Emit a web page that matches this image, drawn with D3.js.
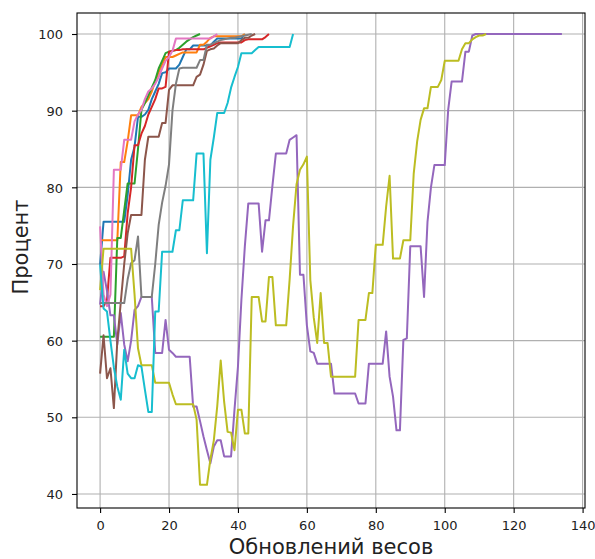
<!DOCTYPE html>
<html>
<head>
<meta charset="utf-8">
<script src="https://cdn.jsdelivr.net/npm/d3@7"></script>
<style>
  body { margin: 0; background: #fff; }
  text { font-family: "DejaVu Sans", sans-serif; }
</style>
</head>
<body>
<div id="chart"></div>
<script>
// accuracy (%) after each weight update, one array per run
const blue = [69.9, 75.5, 75.5, 75.5, 75.5, 75.5, 75.5, 75.5, 79, 83.6,
  85.3, 89.2, 89.2, 89.5, 90.1, 91.5, 92.5, 93.5, 94.9, 95,
  95.5, 95.5, 95.5, 96, 97, 98, 98, 98.5, 98.5, 98.5,
  98.5, 98.5, 98.5, 99, 99.4, 99.4, 99.4, 99.4, 99.4, 99.4,
  99.4, 99.4, 100];
const orange = [73.1, 73.1, 73.1, 73.1, 73.1, 73.1, 83.3, 83.3, 86, 89.4,
  89.4, 89.4, 90.5, 91, 91.5, 92.5, 93.8, 95, 96, 97,
  97, 97, 97.2, 97.4, 97.6, 97.6, 97.6, 97.6, 97.6, 98.6,
  98.6, 99, 99.5, 99.7, 99.7, 99.7, 99.7, 99.7, 99.7, 99.7,
  99.7, 99.7, 100];
const green = [60.5, 60.5, 60.5, 60.5, 60.5, 73.4, 73.4, 77, 80.5, 80.5,
  80.5, 85, 90.1, 91, 92, 93, 94, 95.5, 96.5, 97.5,
  97.7, 97.8, 97.9, 98.2, 98.6, 99, 99.3, 99.6, 99.8, 100];
const red = [64.5, 64.5, 65.3, 70.8, 70.8, 70.8, 70.8, 71, 76.6, 80,
  85.5, 85.5, 87, 88, 89.5, 90.5, 91.5, 92.9, 92.9, 93.1,
  97.7, 97.8, 97.9, 97.9, 98, 98, 98, 98, 98, 98,
  98, 98.2, 98.4, 98.6, 98.8, 98.9, 98.9, 98.9, 98.9, 98.9,
  98.9, 98.9, 99.2, 99.3, 99.3, 99.3, 99.3, 99.3, 99.6, 100];
const purple = [64.7, 69, 66.5, 63.3, 63.3, 59.5, 63.6, 59.5, 57.3, 60,
  64, 64.5, 65.7, 65.7, 65.7, 65.7, 58.4, 58.4, 58.4, 62.7,
  58.8, 58.4, 57.9, 57.9, 57.9, 57.9, 57.9, 51.4, 51.4, 49.5,
  47.5, 45.7, 44, 46.2, 47, 47, 44.9, 44.9, 44.9, 51,
  56.6, 65.3, 72.3, 77.9, 77.9, 77.9, 77.9, 71.6, 75.7, 75.7,
  80.2, 84.4, 84.4, 84.4, 84.4, 86.2, 86.5, 86.8, 68.6, 68.6,
  62, 58.6, 58.4, 57, 57, 57, 57, 57, 53.1, 53.1,
  53.1, 53.1, 53.1, 53.1, 53.1, 51.8, 51.8, 51.8, 57, 57,
  57, 57, 57, 61.2, 55.3, 52.7, 48.3, 48.3, 60.1, 60.3,
  72.3, 72.3, 72.3, 72.3, 65.7, 75.5, 80, 82.9, 82.9, 82.9,
  82.9, 90.1, 93.8, 93.8, 93.8, 93.8, 97.7, 97.7, 99.8, 100,
  100, 100, 100, 100, 100, 100, 100, 100, 100, 100,
  100, 100, 100, 100, 100, 100, 100, 100, 100, 100,
  100, 100, 100, 100, 100];
const brown = [55.7, 60.7, 55.1, 56.4, 51.2, 60, 65, 70, 74, 76.4,
  76.4, 76.4, 76.4, 83.6, 86.6, 86.6, 86.6, 86.6, 88.4, 88.4,
  92.7, 93.3, 93.3, 93.3, 93.3, 93.3, 93.3, 93.3, 94.4, 94.7,
  96, 97.8, 98, 98.1, 98.5, 98.8, 98.8, 98.8, 98.8, 98.8,
  98.8, 99.2, 99.5, 99.5, 99.8, 100];
const pink = [74.9, 66, 64.5, 66, 82.3, 82.3, 82.3, 86.2, 86.2, 86.2,
  88.6, 89.5, 90.1, 91.5, 92.5, 92.9, 93.5, 94.4, 95.5, 96.5,
  97, 97.8, 99.4, 99.4, 99.4, 99.4, 99.4, 99.4, 99.4, 99.4,
  99.4, 99.4, 99.4, 99.7, 100];
const gray = [64.9, 64.9, 64.9, 64.9, 64.9, 64.9, 64.9, 64.9, 68, 70.1,
  70.5, 73.6, 65.7, 65.7, 65.7, 65.7, 70, 75.1, 78, 80.2,
  83, 90, 93.5, 95.5, 95.6, 95.6, 95.6, 95.6, 95.6, 96.6,
  96.6, 98.6, 98.6, 98.8, 99, 99.2, 99.3, 99.4, 99.5, 99.5,
  99.6, 99.7, 99.8, 99.9, 100];
const olive = [66.6, 72, 72, 72, 72, 72, 72, 72, 72, 72,
  66, 59, 56.8, 56.8, 56.8, 56.8, 54.5, 54.5, 54.5, 54.5,
  54.5, 53, 51.7, 51.7, 51.7, 51.7, 51.7, 51.7, 49.7, 41.2,
  41.2, 41.2, 44.5, 47, 51.5, 57.4, 52, 48.1, 48, 45.7,
  51, 51, 47.9, 47.9, 65.7, 65.7, 65.7, 62.5, 62.5, 68.3,
  68.3, 62, 62, 62, 62, 68, 75, 80.4, 82.3, 83,
  84, 67.9, 63, 59.7, 66.2, 59.7, 59.7, 55.3, 55.3, 55.3,
  55.3, 55.3, 55.3, 55.3, 55.3, 62.7, 62.7, 62.7, 66.2, 66.2,
  72.5, 72.5, 72.5, 77.5, 81.5, 70.7, 70.7, 70.7, 73.1, 73.1,
  73.1, 81.8, 86, 88.8, 90.3, 90.3, 93.1, 93.1, 93.1, 94,
  96.5, 96.5, 96.5, 96.5, 96.5, 98, 98.8, 98.8, 99.3, 99.6,
  99.8, 99.8, 100];
const cyan = [69.9, 64.2, 63.8, 60, 56.5, 54, 52.3, 58.8, 55.7, 55.1,
  55.1, 56.8, 56.6, 53.6, 50.7, 50.7, 63.8, 63.8, 71.6, 71.6,
  71.6, 71.6, 74.4, 74.4, 78.3, 78.3, 78.3, 78.3, 84.4, 84.4,
  84.4, 71.4, 83.6, 86.5, 89.7, 89.7, 89.7, 91, 93, 94.4,
  95.7, 97.5, 97.5, 97.5, 97.5, 97.9, 98.3, 98.3, 98.3, 98.3,
  98.3, 98.3, 98.3, 98.3, 98.3, 98.3, 100];

const runs = [blue, orange, green, red, purple, brown, pink, gray, olive, cyan];
const colors = ["#1f77b4", "#ff7f0e", "#2ca02c", "#d62728", "#9467bd",
  "#8c564b", "#e377c2", "#7f7f7f", "#bcbd22", "#17becf"];
const xTicks = [0, 20, 40, 60, 80, 100, 120, 140];
const yTicks = [40, 50, 60, 70, 80, 90, 100];

const width = 595;
const height = 559;
const plotLeft = 77, plotRight = 585, plotTop = 13, plotBottom = 508;

const svg = d3.select("#chart").append("svg")
  .attr("width", width)
  .attr("height", height);

const x = d3.scaleLinear().domain([-6.7, 140.7]).range([plotLeft, plotRight]);
const y = d3.scaleLinear().domain([38.17, 102.74]).range([plotBottom, plotTop]);

// grid
svg.append("g")
  .selectAll("line")
  .data(xTicks)
  .join("line")
  .attr("x1", (d) => x(d)).attr("x2", (d) => x(d))
  .attr("y1", plotTop).attr("y2", plotBottom)
  .attr("stroke", "#b0b0b0").attr("stroke-width", 1.1);
svg.append("g")
  .selectAll("line")
  .data(yTicks)
  .join("line")
  .attr("x1", plotLeft).attr("x2", plotRight)
  .attr("y1", (d) => y(d)).attr("y2", (d) => y(d))
  .attr("stroke", "#b0b0b0").attr("stroke-width", 1.1);

// lines
const line = d3.line()
  .x((d, i) => x(i))
  .y((d) => y(d));

svg.append("g")
  .attr("fill", "none")
  .attr("stroke-width", 2)
  .attr("stroke-linejoin", "round")
  .selectAll("path")
  .data(runs)
  .join("path")
  .attr("stroke", (d, i) => colors[i])
  .attr("d", line);

// axes
const xAxis = svg.append("g")
  .attr("transform", `translate(0, ${plotBottom})`)
  .call(d3.axisBottom(x).tickValues(xTicks).tickSize(5).tickPadding(4));
xAxis.selectAll("text").attr("y", 22).attr("dy", 0);

const yAxis = svg.append("g")
  .attr("transform", `translate(${plotLeft}, 0)`)
  .call(d3.axisLeft(y).tickValues(yTicks).tickSize(5).tickPadding(9));
yAxis.selectAll("text").attr("dy", "0.36em");

[xAxis, yAxis].forEach((g) => {
  g.select(".domain").remove();
  g.selectAll("line").attr("stroke", "#000").attr("stroke-width", 1.1);
  g.selectAll("text")
    .attr("fill", "#222")
    .style("font-family", "DejaVu Sans")
    .style("font-size", "13px");
});

// spines
svg.append("rect")
  .attr("x", plotLeft).attr("y", plotTop)
  .attr("width", plotRight - plotLeft).attr("height", plotBottom - plotTop)
  .attr("fill", "none").attr("stroke", "#000").attr("stroke-width", 1.1);

// labels
svg.append("text")
  .attr("x", (plotLeft + plotRight) / 2)
  .attr("y", 554)
  .attr("text-anchor", "middle")
  .attr("fill", "#222")
  .style("font-size", "21px")
  .text("Обновлений весов");

svg.append("text")
  .attr("transform", "translate(28, 247) rotate(-90)")
  .attr("text-anchor", "middle")
  .attr("fill", "#222")
  .style("font-size", "21px")
  .text("Процент");
</script>
</body>
</html>
